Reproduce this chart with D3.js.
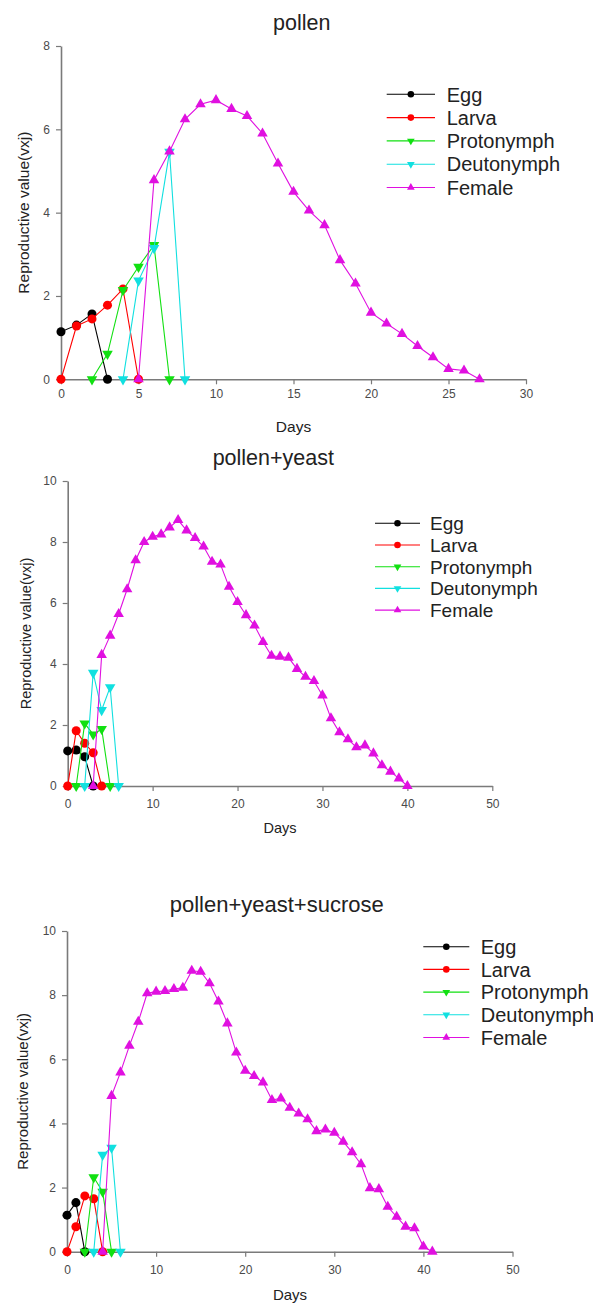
<!DOCTYPE html>
<html>
<head>
<meta charset="utf-8">
<script src="https://cdn.jsdelivr.net/npm/d3@7"></script>
<style>
  html, body { margin: 0; padding: 0; background: #fff; }
  svg { display: block; }
  text { font-family: "Liberation Sans", Arial, sans-serif; }
</style>
</head>
<body>
<svg id="chart" width="593" height="1306"></svg>
<script>
// ---------------- DATA ----------------
const stages = ["Egg", "Larva", "Protonymph", "Deutonymph", "Female"];
const stageColors = ["#000000", "#ff0000", "#11e011", "#11e0e0", "#e010e0"];
const stageSymbols = ["circle", "circle", "down", "down", "up"];

const panelTitles = ["pollen", "pollen+yeast", "pollen+yeast+sucrose"];
const xTicks1 = [0, 5, 10, 15, 20, 25, 30];
const xTicks23 = [0, 10, 20, 30, 40, 50];
const yTicks1 = [0, 2, 4, 6, 8];
const yTicks23 = [0, 2, 4, 6, 8, 10];
const xLabel = "Days";
const yLabel = "Reproductive value(vxj)";

// pollen: first day of each stage series, then the values
const pollenStart = [0, 0, 2, 4, 5];
const pollenEgg = [1.14, 1.30, 1.57, 0];
const pollenLarva = [0, 1.28, 1.45, 1.78, 2.17, 0];
const pollenProto = [0, 0.61, 2.14, 2.70, 3.22, 0];
const pollenDeuto = [0, 2.37, 3.15, 5.46, 0];
const pollenFemale = [0, 4.78, 5.47, 6.24, 6.60, 6.70, 6.49, 6.32, 5.90, 5.18, 4.50, 4.05, 3.70, 2.86, 2.30, 1.60, 1.34, 1.09, 0.80, 0.53, 0.25, 0.21, 0];

// pollen+yeast
const pyStart = [0, 0, 1, 2, 3];
const pyEgg = [1.15, 1.18, 0.96, 0];
const pyLarva = [0, 1.81, 1.40, 1.09, 0];
const pyProto = [0, 2.05, 1.69, 1.87, 0];
const pyDeuto = [0, 3.71, 2.49, 3.24, 0];
const pyFemale = [0, 4.30, 4.93, 5.64, 6.45, 7.40, 8.00, 8.17, 8.25, 8.48, 8.72, 8.38, 8.13, 7.85, 7.35, 7.26, 6.53, 6.03, 5.60, 5.26, 4.72, 4.27, 4.24, 4.21, 3.84, 3.58, 3.44, 2.97, 2.22, 1.76, 1.53, 1.27, 1.33, 1.07, 0.68, 0.47, 0.25, 0];

// pollen+yeast+sucrose
const pysStart = [0, 0, 2, 3, 4];
const pysEgg = [1.14, 1.53, 0];
const pysLarva = [0, 0.78, 1.74, 1.65, 0];
const pysProto = [0, 2.32, 1.87, 0];
const pysDeuto = [0, 3.02, 3.24, 0];
const pysFemale = [0, 4.86, 5.59, 6.42, 7.17, 8.06, 8.11, 8.13, 8.19, 8.23, 8.76, 8.73, 8.37, 7.80, 7.12, 6.21, 5.64, 5.48, 5.28, 4.73, 4.78, 4.49, 4.31, 4.13, 3.76, 3.81, 3.71, 3.43, 3.10, 2.73, 1.98, 1.95, 1.40, 1.09, 0.78, 0.73, 0.16, 0];

// ---------------- LAYOUT ----------------
const panels = [
  { title: panelTitles[0], start: pollenStart, series: [pollenEgg, pollenLarva, pollenProto, pollenDeuto, pollenFemale],
    xDom: [0, 30], yDom: [0, 8], xT: xTicks1, yT: yTicks1,
    left: 61, right: 526, top: 46, bottom: 379.3, xPad: 5,
    titleX: 301.7, titleY: 30, titleSize: 21.5,
    yLabX: 29, yLabSize: 15.5, xLabX: 293.5, xLabY: 432, xLabSize: 15.5,
    leg: { x1: 386.7, x2: 435, tx: 446.7, y0: 94.3, dy: 23.3, fs: 20 } },
  { title: panelTitles[1], start: pyStart, series: [pyEgg, pyLarva, pyProto, pyDeuto, pyFemale],
    xDom: [0, 50], yDom: [0, 10], xT: xTicks23, yT: yTicks23,
    left: 67.7, right: 492.3, top: 481, bottom: 786, xPad: 8,
    titleX: 273.3, titleY: 465, titleSize: 21.5,
    yLabX: 31, yLabSize: 14.5, xLabX: 280, xLabY: 833, xLabSize: 14.5,
    leg: { x1: 375, x2: 420, tx: 430, y0: 523.3, dy: 21.7, fs: 19 } },
  { title: panelTitles[2], start: pysStart, series: [pysEgg, pysLarva, pysProto, pysDeuto, pysFemale],
    xDom: [0, 50], yDom: [0, 10], xT: xTicks23, yT: yTicks23,
    left: 67, right: 512.5, top: 931, bottom: 1251.7, xPad: 9,
    titleX: 276.7, titleY: 911.5, titleSize: 22,
    yLabX: 27.5, yLabSize: 15, xLabX: 290, xLabY: 1300, xLabSize: 15,
    leg: { x1: 423.3, x2: 469.3, tx: 480.7, y0: 946.7, dy: 22.7, fs: 20 } }
];

const svg = d3.select("#chart");
const axisColor = "#7a7a7a";
const tickTextColor = "#4a4a4a";
const labelColor = "#222";

function symbolPath(kind, size) {
  if (kind === "circle") return d3.symbol().type(d3.symbolCircle).size(size)();
  return d3.symbol().type(d3.symbolTriangle).size(size * 0.75)();
}
function symbolRot(kind) { return kind === "down" ? " rotate(180)" : ""; }

panels.forEach(p => {
  const g = svg.append("g");
  const x = d3.scaleLinear().domain(p.xDom).range([p.left, p.right]);
  const y = d3.scaleLinear().domain(p.yDom).range([p.bottom, p.top]);

  // axes
  const xAxis = d3.axisBottom(x).tickValues(p.xT).tickSize(5).tickSizeOuter(0).tickPadding(p.xPad);
  const yAxis = d3.axisLeft(y).tickValues(p.yT).tickSize(5).tickSizeOuter(0).tickPadding(6);
  const gx = g.append("g").attr("transform", `translate(0,${p.bottom})`).call(xAxis);
  const gy = g.append("g").attr("transform", `translate(${p.left},0)`).call(yAxis);
  [gx, gy].forEach(a => {
    a.select(".domain").attr("stroke", axisColor).attr("stroke-width", 1.6);
    a.selectAll(".tick line").attr("stroke", axisColor).attr("stroke-width", 1.2);
    a.selectAll(".tick text").attr("fill", tickTextColor)
      .style("font-family", '"Liberation Sans", Arial, sans-serif').style("font-size", "12px");
  });

  // title & axis labels
  g.append("text").attr("x", p.titleX).attr("y", p.titleY).attr("text-anchor", "middle")
    .attr("fill", labelColor).style("font-size", p.titleSize + "px").text(p.title);
  g.append("text").attr("x", p.xLabX).attr("y", p.xLabY).attr("text-anchor", "middle")
    .attr("fill", labelColor).style("font-size", p.xLabSize + "px").text(xLabel);
  const cy = (p.top + p.bottom) / 2;
  g.append("text").attr("transform", `translate(${p.yLabX},${cy}) rotate(-90)`).attr("text-anchor", "middle")
    .attr("fill", labelColor).style("font-size", p.yLabSize + "px").text(yLabel);

  // series
  const line = d3.line().x(d => x(d[0])).y(d => y(d[1]));
  p.series.forEach((vals, si) => {
    const pts = vals.map((v, i) => [p.start[si] + i, v]);
    g.append("path").datum(pts).attr("d", line).attr("fill", "none")
      .attr("stroke", stageColors[si]).attr("stroke-width", 1.1);
    const kind = stageSymbols[si];
    g.selectAll(null).data(pts).enter().append("path")
      .attr("d", symbolPath(kind, 64))
      .attr("transform", d => `translate(${x(d[0])},${y(d[1])})` + symbolRot(kind))
      .attr("fill", stageColors[si]);
  });

  // legend
  const L = p.leg;
  stages.forEach((s, i) => {
    const yy = L.y0 + i * L.dy;
    g.append("line").attr("x1", L.x1).attr("x2", L.x2).attr("y1", yy).attr("y2", yy)
      .attr("stroke", stageColors[i]).attr("stroke-width", 1.1);
    const kind = stageSymbols[i];
    g.append("path").attr("d", symbolPath(kind, 34))
      .attr("transform", `translate(${(L.x1 + L.x2) / 2},${yy})` + symbolRot(kind))
      .attr("fill", stageColors[i]);
    g.append("text").attr("x", L.tx).attr("y", yy).attr("dy", "0.36em")
      .attr("fill", labelColor).style("font-size", L.fs + "px").text(s);
  });
});
</script>
</body>
</html>
